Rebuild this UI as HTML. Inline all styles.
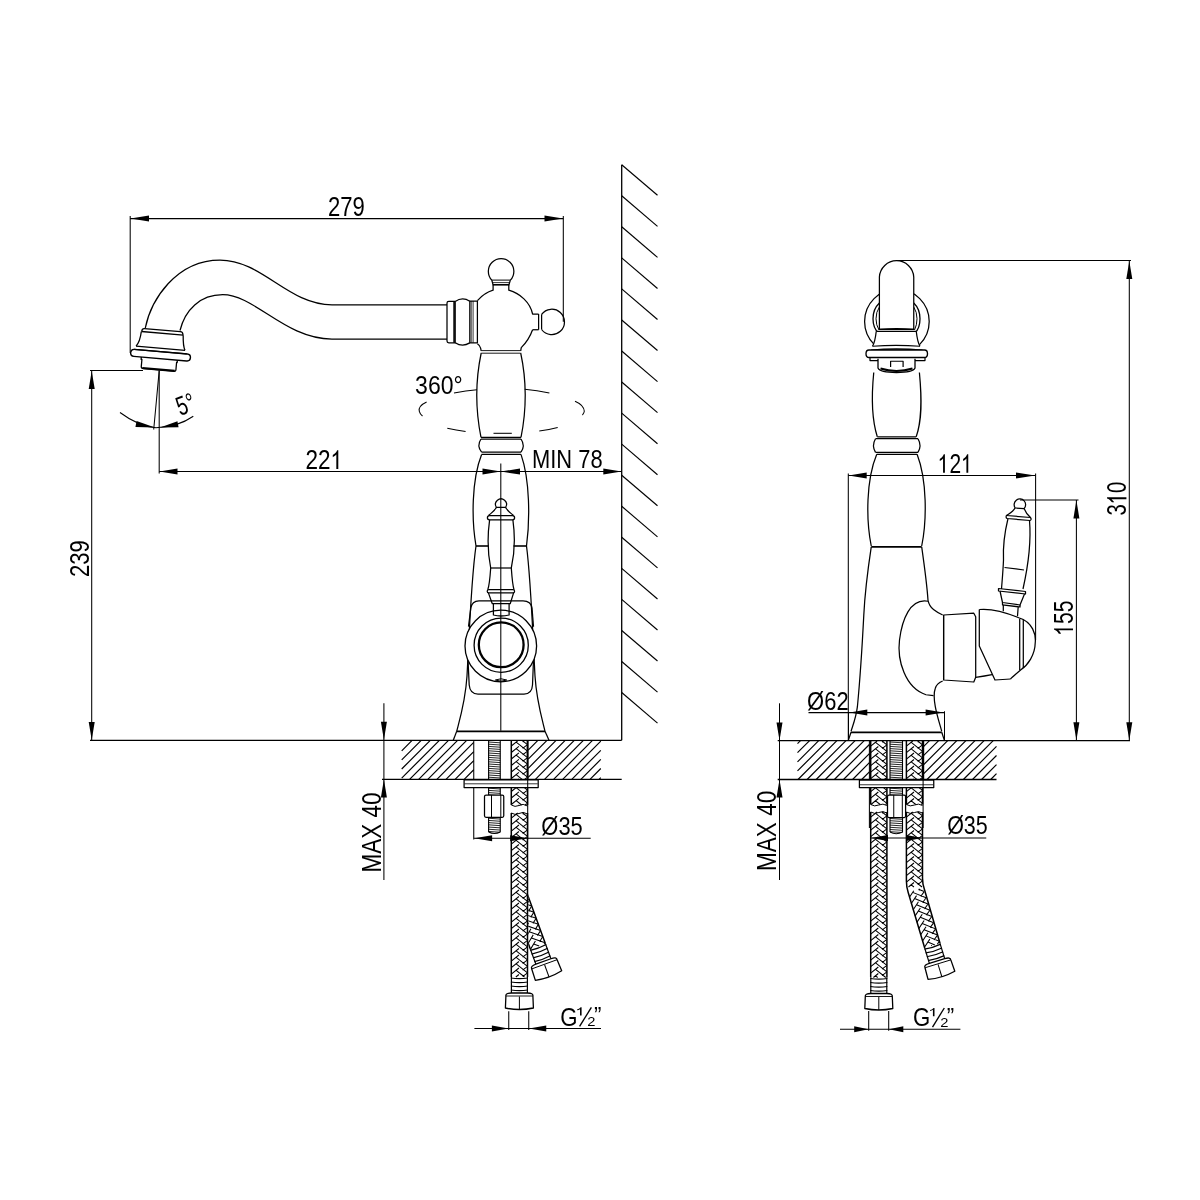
<!DOCTYPE html>
<html><head><meta charset="utf-8"><style>
html,body{margin:0;padding:0;background:#fff;}
svg{display:block;will-change:transform;}
text{font-family:"Liberation Sans",sans-serif;fill:#000;}
</style></head><body>
<svg width="1200" height="1200" viewBox="0 0 1200 1200" stroke-linecap="butt" stroke-linejoin="round">
<rect width="1200" height="1200" fill="#fff"/>
<line x1="130.2" y1="216" x2="130.2" y2="353" stroke="#000" stroke-width="1.05"/>
<line x1="563.3" y1="216" x2="563.3" y2="321.7" stroke="#000" stroke-width="1.05"/>
<line x1="130.2" y1="218.6" x2="563.3" y2="218.6" stroke="#000" stroke-width="1.05"/>
<path d="M130.5,218.6 L149,221.6 L149,215.6 Z" fill="#000" stroke="none"/>
<path d="M563,218.6 L544.5,215.6 L544.5,221.6 Z" fill="#000" stroke="none"/>
<g transform="matrix(0.22071,0,0,0.26761,327.9,215.73)"><text font-size="100"><tspan x="0">2</tspan><tspan x="55.61">7</tspan><tspan x="111.22">9</tspan></text></g>
<path d="M145.3,328 C151,300 176,260 220,260 C262,260 288,304.8 332,304.8 L447,304.8" fill="none" stroke="#000" stroke-width="1.25" />
<path d="M180,330.5 C185,310 200,294.7 222.7,294.7 C255,294.7 285,339 332,339 L447,339" fill="none" stroke="#000" stroke-width="1.25" />
<g transform="rotate(5 160 350)"><path d="M140.3,333.1 L140.3,332.3 Q140.3,330 142.6,330 L178.6,330 Q181.2,330 181.4,332.3 L181.6,333.3" fill="none" stroke="#000" stroke-width="1.3"/><line x1="140" y1="333.2" x2="181.8" y2="333.2" stroke="#000" stroke-width="1.3"/><path d="M139.8,333.2 C139.5,340 138,345.5 135.8,348.2" fill="none" stroke="#000" stroke-width="1.3"/><path d="M181.8,333.3 C182.3,340 183,345 184.9,348" fill="none" stroke="#000" stroke-width="1.3"/><line x1="135.8" y1="348.2" x2="185" y2="348.2" stroke="#000" stroke-width="1.3"/><line x1="134" y1="351.6" x2="187" y2="351.6" stroke="#000" stroke-width="1.3"/><path d="M134.5,351.6 L187.5,351.6 Q191,351.6 191,355.1 Q191,358.6 187.5,358.6 L134.5,358.6 Q131,358.6 131,355.1 Q131,351.6 134.5,351.6 Z" fill="none" stroke="#000" stroke-width="1.4"/><path d="M142,358.6 L142,361 L142.8,361 L142.8,368.6 Q142.8,370 144.8,370 L175.8,370 Q177.6,370 177.6,368.6 L177.6,361 L178.2,361 L178.2,358.6" fill="none" stroke="#000" stroke-width="1.3"/><line x1="144" y1="369.4" x2="176.5" y2="369.4" stroke="#000" stroke-width="2"/></g>
<line x1="90" y1="370.5" x2="143" y2="370.5" stroke="#000" stroke-width="1.05"/>
<line x1="91.7" y1="370.5" x2="91.7" y2="740.5" stroke="#000" stroke-width="1.05"/>
<path d="M91.7,371 L88.7,389 L94.7,389 Z" fill="#000" stroke="none"/>
<path d="M91.7,740 L94.7,722 L88.7,722 Z" fill="#000" stroke="none"/>
<g transform="matrix(0,-0.22071,0.27746,0,88.72,577.1)"><text font-size="100"><tspan x="0">2</tspan><tspan x="55.61">3</tspan><tspan x="111.22">9</tspan></text></g>
<line x1="159.2" y1="370.5" x2="159.2" y2="473.5" stroke="#000" stroke-width="1.05"/>
<line x1="159.2" y1="370.8" x2="153.7" y2="429.5" stroke="#000" stroke-width="1.05"/>
<path d="M120,412.5 Q138,426 156,427.8 Q178,427 193.3,416.3" fill="none" stroke="#000" stroke-width="1.05" />
<path d="M155,427.6 L136.56,421.05 L135.44,426.95 Z" fill="#000" stroke="none"/>
<path d="M160,427.6 L178.54,427.25 L177.46,421.35 Z" fill="#000" stroke="none"/>
<g transform="translate(185.2,404.2) rotate(-20)"><g transform="matrix(0.19274,0,0,0.26761,-9.02,9.23)"><text font-size="100"><tspan x="0">5</tspan><tspan x="55.61">°</tspan></text></g></g>
<line x1="159.2" y1="471.5" x2="621.7" y2="471.5" stroke="#000" stroke-width="1.05"/>
<path d="M159.5,471.5 L177.5,474.5 L177.5,468.5 Z" fill="#000" stroke="none"/>
<path d="M500.8,471.5 L482.5,468.5 L482.5,474.5 Z" fill="#000" stroke="none"/>
<path d="M500.8,471.5 L520,474.5 L520,468.5 Z" fill="#000" stroke="none"/>
<path d="M621.5,471.5 L603.3,468.5 L603.3,474.5 Z" fill="#000" stroke="none"/>
<g transform="matrix(0.22536,0,0,0.27143,305.57,469)"><text font-size="100"><tspan x="0">2</tspan><tspan x="55.61">2</tspan></text><path class="g1" transform="translate(111.22,0)" d="M25.25,0 L34,0 L34,-69 L28.8,-69 C26,-62 18,-55.5 9.5,-51.5 L9.5,-43.5 C15.5,-45.5 21.5,-49.5 25.25,-53 Z" fill="#000"/></g>
<g transform="matrix(0.21906,0,0,0.26408,532,468.49)"><text font-size="100"><tspan x="0">M</tspan><tspan x="83.3">I</tspan><tspan x="111.08">N</tspan><tspan x="211.08">7</tspan><tspan x="266.69">8</tspan></text></g>
<g transform="matrix(0.23015,0,0,0.26338,415.08,394.44)"><text font-size="100"><tspan x="0">3</tspan><tspan x="55.61">6</tspan><tspan x="111.22">0</tspan><tspan x="166.83">°</tspan></text></g>
<path d="M454,393 Q466,390.5 477,389.7" fill="none" stroke="#000" stroke-width="1.05" />
<path d="M524.7,389.3 Q537,390.5 549.4,393" fill="none" stroke="#000" stroke-width="1.05" />
<path d="M426.6,402 Q418,406 419.3,411.3 Q420,414 422.5,416" fill="none" stroke="#000" stroke-width="1.05" />
<path d="M575,401.2 Q584,405 584.3,411.3 Q584,413.5 582.4,415" fill="none" stroke="#000" stroke-width="1.05" />
<path d="M447.3,428.2 Q456,430 465.6,431.5" fill="none" stroke="#000" stroke-width="1.05" />
<path d="M539.3,431.1 Q548,430 557.7,427.5" fill="none" stroke="#000" stroke-width="1.05" />
<path d="M447,303 Q447,301.4 448.8,301.4 L455.2,301.4 L455.2,342.75 L448.8,342.75 Q447,342.75 447,341 Z" fill="none" stroke="#000" stroke-width="1.25" />
<line x1="454.1" y1="301.4" x2="454.1" y2="342.75" stroke="#000" stroke-width="1.6"/>
<path d="M455.2,301.4 Q462.5,296.5 469.8,301.2" fill="none" stroke="#000" stroke-width="1.25" />
<path d="M455.2,342.75 Q462.5,347.5 469.8,342.9" fill="none" stroke="#000" stroke-width="1.25" />
<path d="M469.8,301 L477.4,301 L477.4,342.75 L469.8,342.75 Z" fill="none" stroke="#000" stroke-width="1.25" />
<line x1="471.2" y1="301" x2="471.2" y2="342.75" stroke="#000" stroke-width="0.8"/>
<line x1="473.1" y1="301" x2="473.1" y2="342.75" stroke="#000" stroke-width="0.8"/>
<path d="M477.4,300.6 C482,295.5 487,292 493.1,290.2 L493.1,285" fill="none" stroke="#000" stroke-width="1.25" />
<path d="M508.8,285 L508.8,290.2 C520,293.5 530,302 532.6,314 L538.6,314" fill="none" stroke="#000" stroke-width="1.25" />
<path d="M532.6,329.75 L538.6,329.75" fill="none" stroke="#000" stroke-width="1.25" />
<path d="M532.6,329.75 C530,337 527,342 521.25,347.6 L520.7,350.9" fill="none" stroke="#000" stroke-width="1.25" />
<path d="M477.4,343.8 Q480,345.5 480.6,348.2 L481.2,350.9" fill="none" stroke="#000" stroke-width="1.25" />
<line x1="538.6" y1="314" x2="538.6" y2="329.75" stroke="#000" stroke-width="1.25"/>
<line x1="541.6" y1="314.3" x2="541.6" y2="329.5" stroke="#000" stroke-width="1.25"/>
<path d="M491.8,280.1 A12.75,12.75 0 1 1 510.4,280.1" fill="none" stroke="#000" stroke-width="1.25" />
<line x1="491.5" y1="280.1" x2="510.5" y2="280.1" stroke="#000" stroke-width="1.0"/>
<line x1="492" y1="282.6" x2="510" y2="282.6" stroke="#000" stroke-width="0.8"/>
<line x1="492.8" y1="284.8" x2="509.3" y2="284.8" stroke="#000" stroke-width="1.6"/>
<line x1="491.8" y1="280.1" x2="493.1" y2="285" stroke="#000" stroke-width="1.25"/>
<line x1="510.4" y1="280.1" x2="508.8" y2="285" stroke="#000" stroke-width="1.25"/>
<path d="M541.6,314.3 A12.7,12.7 0 1 1 541.6,329.5" fill="none" stroke="#000" stroke-width="1.25" />
<line x1="481.2" y1="350.6" x2="520.7" y2="350.6" stroke="#000" stroke-width="0.9"/>
<line x1="481.2" y1="353.2" x2="520.7" y2="353.2" stroke="#000" stroke-width="0.9"/>
<path d="M481.2,353 C475.5,380 475.5,410 481,437.4" fill="none" stroke="#000" stroke-width="1.25" />
<path d="M520.7,353 C526.5,380 526.5,410 521,437.4" fill="none" stroke="#000" stroke-width="1.25" />
<line x1="493.5" y1="433.3" x2="511.8" y2="433.3" stroke="#000" stroke-width="1.05"/>
<line x1="481" y1="437.4" x2="521" y2="437.4" stroke="#000" stroke-width="1.25"/>
<line x1="481" y1="439" x2="521" y2="439" stroke="#000" stroke-width="1.25"/>
<line x1="481.6" y1="452.2" x2="521" y2="452.2" stroke="#000" stroke-width="1.25"/>
<line x1="481.6" y1="454.4" x2="521" y2="454.4" stroke="#000" stroke-width="1.25"/>
<path d="M481,439 Q476.5,445.7 481.6,452.2" fill="none" stroke="#000" stroke-width="1.25" />
<path d="M521,439 Q525.5,445.7 521,452.2" fill="none" stroke="#000" stroke-width="1.25" />
<path d="M481.6,454.4 C471.5,480 471.5,520 476,546" fill="none" stroke="#000" stroke-width="1.25" />
<path d="M521,454.4 C530,480 530,520 526.5,546" fill="none" stroke="#000" stroke-width="1.25" />
<line x1="476" y1="546" x2="488.5" y2="546" stroke="#000" stroke-width="1.6"/>
<line x1="513.5" y1="546" x2="526.5" y2="546" stroke="#000" stroke-width="1.6"/>
<path d="M476,546 C471,580 469,640 467,676 C465.5,700 461,715 456.7,731.3" fill="none" stroke="#000" stroke-width="1.25" />
<path d="M526.5,546 C531,580 533,640 535,676 C536.5,700 541,715 545,731.3" fill="none" stroke="#000" stroke-width="1.25" />
<line x1="456.7" y1="731.3" x2="545" y2="731.3" stroke="#000" stroke-width="1.7"/>
<line x1="456.7" y1="731.3" x2="453.3" y2="740.3" stroke="#000" stroke-width="1.25"/>
<line x1="545" y1="731.3" x2="549" y2="740.3" stroke="#000" stroke-width="1.25"/>
<path d="M470.8,608 Q472,600.8 479,600.8 L523,600.8 Q531,600.8 532,608" fill="none" stroke="#000" stroke-width="1.25" />
<path d="M470.8,608 L468.5,626.7" fill="none" stroke="#000" stroke-width="1.25" />
<path d="M532,608 L533.5,626.7" fill="none" stroke="#000" stroke-width="1.25" />
<path d="M468,660 L469.2,685 Q470,694 478,694 L524,694 Q532,694 532.5,685 L533.5,660" fill="none" stroke="#000" stroke-width="1.25" />
<circle cx="500.8" cy="646" r="35.8" fill="#fff" stroke="#000" stroke-width="1.3"/>
<circle cx="501.2" cy="645.2" r="27.1" fill="none" stroke="#000" stroke-width="1.3"/>
<circle cx="501.2" cy="644.8" r="22.4" fill="none" stroke="#000" stroke-width="2.3"/>
<path d="M495.4,680 Q501,677.5 506.7,680 Q501,682.5 495.4,680 Z" fill="none" stroke="#000" stroke-width="1.0" />
<line x1="500.8" y1="463.6" x2="500.8" y2="730.8" stroke="#000" stroke-width="1.05"/>
<path d="M496.3,507.3 A5.5,5.5 0 1 1 505.7,507.3 Z" fill="none" stroke="#000" stroke-width="1.25" />
<path d="M496.2,507.4 C494.5,511.5 491,513 488.5,515.5 M505.8,507.4 C507.5,511.5 511,513 513.5,515.5" fill="none" stroke="#000" stroke-width="1.25" />
<path d="M489.5,515.5 L512.5,515.5 Q514.6,515.5 514.6,517.7 Q514.6,519.8 512.5,519.8 L489.5,519.8 Q487.4,519.8 487.4,517.7 Q487.4,515.5 489.5,515.5 Z" fill="none" stroke="#000" stroke-width="1.25" />
<path d="M489.6,519.8 C487.5,535 487.5,552 490.7,568 M512.9,519.8 C515,535 515,552 511.3,568" fill="none" stroke="#000" stroke-width="1.25" />
<line x1="490.7" y1="568" x2="511.3" y2="568" stroke="#000" stroke-width="1.25"/>
<path d="M490.7,568 C490,578 489.5,585 487.8,589.6 M511.3,568 C512,578 512.5,585 514,589.6" fill="none" stroke="#000" stroke-width="1.25" />
<path d="M488.8,589.6 L513,589.6 Q514.6,589.6 514.6,591.25 Q514.6,592.9 513,592.9 L488.8,592.9 Q487.2,592.9 487.2,591.25 Q487.2,589.6 488.8,589.6 Z" fill="none" stroke="#000" stroke-width="1.25" />
<path d="M488.4,592.9 L492.3,603.7 L510.2,603.7 L513.6,592.9" fill="none" stroke="#000" stroke-width="1.25" />
<path d="M493.4,603.7 L493.4,615 Q501,617 509.1,615 L509.1,603.7" fill="none" stroke="#000" stroke-width="1.25" />
<line x1="621.7" y1="164.7" x2="621.7" y2="740.3" stroke="#000" stroke-width="1.3"/>
<line x1="621.7" y1="164.7" x2="657.5" y2="195.3" stroke="#000" stroke-width="1.15"/>
<line x1="621.7" y1="195.75" x2="657.5" y2="226.35" stroke="#000" stroke-width="1.15"/>
<line x1="621.7" y1="226.8" x2="657.5" y2="257.4" stroke="#000" stroke-width="1.15"/>
<line x1="621.7" y1="257.85" x2="657.5" y2="288.45" stroke="#000" stroke-width="1.15"/>
<line x1="621.7" y1="288.9" x2="657.5" y2="319.5" stroke="#000" stroke-width="1.15"/>
<line x1="621.7" y1="319.95" x2="657.5" y2="350.55" stroke="#000" stroke-width="1.15"/>
<line x1="621.7" y1="351" x2="657.5" y2="381.6" stroke="#000" stroke-width="1.15"/>
<line x1="621.7" y1="382.05" x2="657.5" y2="412.65" stroke="#000" stroke-width="1.15"/>
<line x1="621.7" y1="413.1" x2="657.5" y2="443.7" stroke="#000" stroke-width="1.15"/>
<line x1="621.7" y1="444.15" x2="657.5" y2="474.75" stroke="#000" stroke-width="1.15"/>
<line x1="621.7" y1="475.2" x2="657.5" y2="505.8" stroke="#000" stroke-width="1.15"/>
<line x1="621.7" y1="506.25" x2="657.5" y2="536.85" stroke="#000" stroke-width="1.15"/>
<line x1="621.7" y1="537.3" x2="657.5" y2="567.9" stroke="#000" stroke-width="1.15"/>
<line x1="621.7" y1="568.35" x2="657.5" y2="598.95" stroke="#000" stroke-width="1.15"/>
<line x1="621.7" y1="599.4" x2="657.5" y2="630" stroke="#000" stroke-width="1.15"/>
<line x1="621.7" y1="630.45" x2="657.5" y2="661.05" stroke="#000" stroke-width="1.15"/>
<line x1="621.7" y1="661.5" x2="657.5" y2="692.1" stroke="#000" stroke-width="1.15"/>
<line x1="621.7" y1="692.55" x2="657.5" y2="723.15" stroke="#000" stroke-width="1.15"/>
<line x1="90" y1="740.4" x2="621.7" y2="740.4" stroke="#000" stroke-width="1.4"/>
<line x1="382" y1="779.3" x2="621.7" y2="779.3" stroke="#000" stroke-width="1.3"/>
<path d="M401.7,750.8 L412.1,740.4 M401.7,759.9 L421.2,740.4 M401.7,769 L430.3,740.4 M401.7,778.1 L439.4,740.4 M409.6,779.3 L448.5,740.4 M418.7,779.3 L457.6,740.4 M427.8,779.3 L466.7,740.4 M436.9,779.3 L473.75,742.45 M446,779.3 L473.75,751.55 M455.1,779.3 L473.75,760.65 M464.2,779.3 L473.75,769.75 M473.3,779.3 L473.75,778.85" fill="none" stroke="#000" stroke-width="1.2" />
<path d="M528.2,750.1 L537.9,740.4 M528.2,759.2 L547,740.4 M528.2,768.3 L556.1,740.4 M528.2,777.4 L565.2,740.4 M535.4,779.3 L574.3,740.4 M544.5,779.3 L583.4,740.4 M553.6,779.3 L592.5,740.4 M562.7,779.3 L600.8,741.2 M571.8,779.3 L600.8,750.3 M580.9,779.3 L600.8,759.4 M590,779.3 L600.8,768.5 M599.1,779.3 L600.8,777.6" fill="none" stroke="#000" stroke-width="1.2" />
<line x1="473.75" y1="740.4" x2="473.75" y2="839.5" stroke="#000" stroke-width="1.05"/>
<path d="M488.6,741 L488.6,795 M500.25,741 L500.25,795" fill="none" stroke="#000" stroke-width="1.1" />
<path d="M488.6,742 L500.25,742.8 M488.6,744.2 L500.25,745 M488.6,746.4 L500.25,747.2 M488.6,748.6 L500.25,749.4 M488.6,750.8 L500.25,751.6 M488.6,753 L500.25,753.8 M488.6,755.2 L500.25,756 M488.6,757.4 L500.25,758.2 M488.6,759.6 L500.25,760.4 M488.6,761.8 L500.25,762.6 M488.6,764 L500.25,764.8 M488.6,766.2 L500.25,767 M488.6,768.4 L500.25,769.2 M488.6,770.6 L500.25,771.4 M488.6,772.8 L500.25,773.6 M488.6,775 L500.25,775.8 M488.6,777.2 L500.25,778 M488.6,779.4 L500.25,780.2 M488.6,781.6 L500.25,782.4 M488.6,783.8 L500.25,784.6 M488.6,786 L500.25,786.8 M488.6,788.2 L500.25,789 M488.6,790.4 L500.25,791.2 M488.6,792.6 L500.25,793.4 M488.6,794.8 L500.25,795.6" fill="none" stroke="#000" stroke-width="0.85" />
<path d="M486,795 L502.25,795 Q503.75,795 503.75,796.5 L503.75,815.75 Q503.75,817.25 502.25,817.25 L486,817.25 Q484.5,817.25 484.5,815.75 L484.5,796.5 Q484.5,795 486,795 Z" fill="#fff" stroke="#000" stroke-width="1.25" />
<line x1="491.5" y1="795" x2="491.5" y2="817.25" stroke="#000" stroke-width="1.0"/>
<line x1="500.8" y1="795" x2="500.8" y2="817.25" stroke="#000" stroke-width="1.0"/>
<path d="M488.6,817.25 L488.6,832 M500.25,817.25 L500.25,832" fill="none" stroke="#000" stroke-width="1.1" />
<path d="M488.6,818.25 L500.25,819.05 M488.6,820.45 L500.25,821.25 M488.6,822.65 L500.25,823.45 M488.6,824.85 L500.25,825.65 M488.6,827.05 L500.25,827.85 M488.6,829.25 L500.25,830.05 M488.6,831.45 L500.25,832.25" fill="none" stroke="#000" stroke-width="0.85" />
<path d="M488.6,832 Q494.4,835 500.25,832" fill="none" stroke="#000" stroke-width="1.2" />
<path d="M511.3,740.8 L511.3,805 M527.5,740.8 L527.5,805" fill="none" stroke="#000" stroke-width="1.5" />
<path d="M522.64,740.8 L527.5,744.7 M524.08,740.8 L522.64,741.9 M517.69,740.8 L511.3,746 M516.16,742.1 L527.5,751.2 M527.5,744.7 L522.64,748.4 M518.91,746.3 L511.3,752.5 M516.16,748.6 L527.5,757.7 M527.5,751.2 L522.64,754.9 M518.91,752.8 L511.3,759 M516.16,755.1 L527.5,764.2 M527.5,757.7 L522.64,761.4 M518.91,759.3 L511.3,765.5 M516.16,761.6 L527.5,770.7 M527.5,764.2 L522.64,767.9 M518.91,765.8 L511.3,772 M516.16,768.1 L527.5,777.2 M527.5,770.7 L522.64,774.4 M518.91,772.3 L511.3,778.5 M516.16,774.6 L527.5,783.7 M527.5,777.2 L522.64,780.9 M518.91,778.8 L511.3,785 M516.16,781.1 L527.5,790.2 M527.5,783.7 L522.64,787.4 M518.91,785.3 L511.3,791.5 M516.16,787.6 L527.5,796.7 M527.5,790.2 L522.64,793.9 M518.91,791.8 L511.3,798 M516.16,794.1 L527.5,803.2 M527.5,796.7 L522.64,800.4 M518.91,798.3 L511.3,804.5 M516.16,800.6 L521.64,805 M527.5,803.2 L525.14,805 M518.91,804.8 L518.67,805" fill="none" stroke="#000" stroke-width="1.05" />
<path d="M511.3,813 L511.3,977 M527.5,813 L527.5,977" fill="none" stroke="#000" stroke-width="1.5" />
<path d="M522.64,813 L527.5,816.9 M524.08,813 L522.64,814.1 M517.69,813 L511.3,818.2 M516.16,814.3 L527.5,823.4 M527.5,816.9 L522.64,820.6 M518.91,818.5 L511.3,824.7 M516.16,820.8 L527.5,829.9 M527.5,823.4 L522.64,827.1 M518.91,825 L511.3,831.2 M516.16,827.3 L527.5,836.4 M527.5,829.9 L522.64,833.6 M518.91,831.5 L511.3,837.7 M516.16,833.8 L527.5,842.9 M527.5,836.4 L522.64,840.1 M518.91,838 L511.3,844.2 M516.16,840.3 L527.5,849.4 M527.5,842.9 L522.64,846.6 M518.91,844.5 L511.3,850.7 M516.16,846.8 L527.5,855.9 M527.5,849.4 L522.64,853.1 M518.91,851 L511.3,857.2 M516.16,853.3 L527.5,862.4 M527.5,855.9 L522.64,859.6 M518.91,857.5 L511.3,863.7 M516.16,859.8 L527.5,868.9 M527.5,862.4 L522.64,866.1 M518.91,864 L511.3,870.2 M516.16,866.3 L527.5,875.4 M527.5,868.9 L522.64,872.6 M518.91,870.5 L511.3,876.7 M516.16,872.8 L527.5,881.9 M527.5,875.4 L522.64,879.1 M518.91,877 L511.3,883.2 M516.16,879.3 L527.5,888.4 M527.5,881.9 L522.64,885.6 M518.91,883.5 L511.3,889.7 M516.16,885.8 L527.5,894.9 M527.5,888.4 L522.64,892.1 M518.91,890 L511.3,896.2 M516.16,892.3 L527.5,901.4 M527.5,894.9 L522.64,898.6 M518.91,896.5 L511.3,902.7 M516.16,898.8 L527.5,907.9 M527.5,901.4 L522.64,905.1 M518.91,903 L511.3,909.2 M516.16,905.3 L527.5,914.4 M527.5,907.9 L522.64,911.6 M518.91,909.5 L511.3,915.7 M516.16,911.8 L527.5,920.9 M527.5,914.4 L522.64,918.1 M518.91,916 L511.3,922.2 M516.16,918.3 L527.5,927.4 M527.5,920.9 L522.64,924.6 M518.91,922.5 L511.3,928.7 M516.16,924.8 L527.5,933.9 M527.5,927.4 L522.64,931.1 M518.91,929 L511.3,935.2 M516.16,931.3 L527.5,940.4 M527.5,933.9 L522.64,937.6 M518.91,935.5 L511.3,941.7 M516.16,937.8 L527.5,946.9 M527.5,940.4 L522.64,944.1 M518.91,942 L511.3,948.2 M516.16,944.3 L527.5,953.4 M527.5,946.9 L522.64,950.6 M518.91,948.5 L511.3,954.7 M516.16,950.8 L527.5,959.9 M527.5,953.4 L522.64,957.1 M518.91,955 L511.3,961.2 M516.16,957.3 L527.5,966.4 M527.5,959.9 L522.64,963.6 M518.91,961.5 L511.3,967.7 M516.16,963.8 L527.5,972.9 M527.5,966.4 L522.64,970.1 M518.91,968 L511.3,974.2 M516.16,970.3 L524.51,977 M527.5,972.9 L522.64,976.6 M518.91,974.5 L515.84,977 M516.16,976.8 L516.41,977" fill="none" stroke="#000" stroke-width="1.05" />
<path d="M511.3,805 Q515,807.5 519,805.5 Q523,803 527.5,806" fill="none" stroke="#000" stroke-width="1.0" />
<path d="M511.3,813 Q515,815.5 519,813.5 Q523,811 527.5,814" fill="none" stroke="#000" stroke-width="1.0" />
<clipPath id="cl1"><rect x="528.2" y="850" width="80" height="150"/></clipPath>
<g clip-path="url(#cl1)"><g transform="translate(530.4,949.2) rotate(-20)">
<path d="M0,-70 L0,0 M16,-70 L16,0" fill="none" stroke="#000" stroke-width="1.5" />
<path d="M11.2,-70 L16,-66.1 M12.63,-70 L11.2,-68.9 M6.31,-70 L0,-64.8 M4.8,-68.7 L16,-59.6 M16,-66.1 L11.2,-62.4 M7.52,-64.5 L0,-58.3 M4.8,-62.2 L16,-53.1 M16,-59.6 L11.2,-55.9 M7.52,-58 L0,-51.8 M4.8,-55.7 L16,-46.6 M16,-53.1 L11.2,-49.4 M7.52,-51.5 L0,-45.3 M4.8,-49.2 L16,-40.1 M16,-46.6 L11.2,-42.9 M7.52,-45 L0,-38.8 M4.8,-42.7 L16,-33.6 M16,-40.1 L11.2,-36.4 M7.52,-38.5 L0,-32.3 M4.8,-36.2 L16,-27.1 M16,-33.6 L11.2,-29.9 M7.52,-32 L0,-25.8 M4.8,-29.7 L16,-20.6 M16,-27.1 L11.2,-23.4 M7.52,-25.5 L0,-19.3 M4.8,-23.2 L16,-14.1 M16,-20.6 L11.2,-16.9 M7.52,-19 L0,-12.8 M4.8,-16.7 L16,-7.6 M16,-14.1 L11.2,-10.4 M7.52,-12.5 L0,-6.3 M4.8,-10.2 L16,-1.1 M16,-7.6 L11.2,-3.9 M7.52,-6 L0.24,0 M4.8,-3.7 L9.35,0 M16,-1.1 L14.57,0" fill="none" stroke="#000" stroke-width="1.05" />
</g></g>
<path d="M464.1,779.9 L538.2,779.9 L538.2,787.5 L464.1,787.5 Z" fill="#fff" stroke="#000" stroke-width="1.25" />
<line x1="464.6" y1="783.8" x2="537.7" y2="783.8" stroke="#000" stroke-width="0.8"/>
<line x1="527.7" y1="740.4" x2="527.7" y2="839.5" stroke="#000" stroke-width="1.05"/>
<line x1="527.6" y1="740.4" x2="527.6" y2="779.3" stroke="#000" stroke-width="1.6"/>
<line x1="474" y1="838.3" x2="590.7" y2="838.3" stroke="#000" stroke-width="1.05"/>
<path d="M474.3,838.3 L492.1,841.3 L492.1,835.3 Z" fill="#000" stroke="none"/>
<path d="M527.5,838.3 L510.2,835.3 L510.2,841.3 Z" fill="#000" stroke="none"/>
<g transform="matrix(0.21919,0,0,0.25772,541.37,834.66)"><text font-size="100"><tspan x="0">Ø</tspan><tspan x="77.78">3</tspan><tspan x="133.39">5</tspan></text></g>
<line x1="383.9" y1="703.3" x2="383.9" y2="880" stroke="#000" stroke-width="1.05"/>
<path d="M383.9,740 L386.9,721.7 L380.9,721.7 Z" fill="#000" stroke="none"/>
<path d="M383.9,779.3 L380.9,797.5 L386.9,797.5 Z" fill="#000" stroke="none"/>
<g transform="matrix(0,-0.22556,0.26901,0,380.53,872.6)"><text font-size="100"><tspan x="0">M</tspan><tspan x="83.3">A</tspan><tspan x="150">X</tspan><tspan x="244.48">4</tspan><tspan x="300.09">0</tspan></text></g>
<path d="M511.4,977 L511.4,993 M527.4,977 L527.4,993" fill="#fff" stroke="#000" stroke-width="1.2" />
<path d="M510.9,978 Q519.4,979.3 527.9,978" fill="none" stroke="#000" stroke-width="1.2" />
<path d="M510.9,982 Q519.4,983.3 527.9,982" fill="none" stroke="#000" stroke-width="1.2" />
<path d="M510.9,986 Q519.4,987.3 527.9,986" fill="none" stroke="#000" stroke-width="1.2" />
<path d="M510.9,990 Q519.4,991.3 527.9,990" fill="none" stroke="#000" stroke-width="1.2" />
<path d="M505.9,996 Q505.4,993 511.4,993 L527.4,993 Q533.4,993 532.9,996 L533.4,1008 Q519.4,1011 505.4,1008 Z" fill="#fff" stroke="#000" stroke-width="1.3" />
<line x1="505.9" y1="996" x2="532.9" y2="996" stroke="#000" stroke-width="0.9"/>
<line x1="519.4" y1="996.5" x2="519.4" y2="1009.5" stroke="#000" stroke-width="1.0"/>
<g transform="translate(530.4,949.2) rotate(-20)">
<path d="M0,0 L0,16 M16,0 L16,16" fill="#fff" stroke="#000" stroke-width="1.2" />
<path d="M-0.5,1 Q8,2.3 16.5,1" fill="none" stroke="#000" stroke-width="1.2" />
<path d="M-0.5,5 Q8,6.3 16.5,5" fill="none" stroke="#000" stroke-width="1.2" />
<path d="M-0.5,9 Q8,10.3 16.5,9" fill="none" stroke="#000" stroke-width="1.2" />
<path d="M-0.5,13 Q8,14.3 16.5,13" fill="none" stroke="#000" stroke-width="1.2" />
<path d="M-5.5,19 Q-6,16 0,16 L16,16 Q22,16 21.5,19 L22,31 Q8,34 -6,31 Z" fill="#fff" stroke="#000" stroke-width="1.3" />
<line x1="-5.5" y1="19" x2="21.5" y2="19" stroke="#000" stroke-width="0.9"/>
<line x1="8" y1="19.5" x2="8" y2="32.5" stroke="#000" stroke-width="1.0"/>
</g>
<line x1="508.75" y1="1011.25" x2="508.75" y2="1030" stroke="#000" stroke-width="1.05"/>
<line x1="528.75" y1="1011.25" x2="528.75" y2="1030" stroke="#000" stroke-width="1.05"/>
<line x1="474.4" y1="1028.5" x2="601" y2="1028.5" stroke="#000" stroke-width="1.05"/>
<path d="M508.5,1028.5 L491.9,1025.5 L491.9,1031.5 Z" fill="#000" stroke="none"/>
<path d="M529,1028.5 L546.25,1031.5 L546.25,1025.5 Z" fill="#000" stroke="none"/>
<g transform="matrix(0.22198,0,0,0.26451,560.15,1025.59)"><text font-size="100"><tspan x="0">G</tspan></text></g>
<g transform="matrix(0.17959,0,0,0.11942,575.49,1015.5)"><path class="g1" transform="translate(0,0)" d="M25.25,0 L34,0 L34,-69 L28.8,-69 C26,-62 18,-55.5 9.5,-51.5 L9.5,-43.5 C15.5,-45.5 21.5,-49.5 25.25,-53 Z" fill="#000"/></g>
<line x1="579.6" y1="1026.4" x2="591.4" y2="1007.3" stroke="#000" stroke-width="1.35"/>
<g transform="matrix(0.14725,0,0,0.12071,587.36,1025.85)"><text font-size="100"><tspan x="0">2</tspan></text></g>
<g transform="matrix(0.22353,0,0,0.24622,593.91,1024.25)"><text font-size="100"><tspan x="0">”</tspan></text></g>
<line x1="896" y1="260.5" x2="1131" y2="260.5" stroke="#000" stroke-width="1.05"/>
<line x1="1129.3" y1="260" x2="1129.3" y2="740.5" stroke="#000" stroke-width="1.05"/>
<path d="M1129.3,261 L1126.3,279 L1132.3,279 Z" fill="#000" stroke="none"/>
<path d="M1129.3,740.3 L1132.3,722.3 L1126.3,722.3 Z" fill="#000" stroke="none"/>
<g transform="matrix(0,-0.20319,0.28099,0,1126.42,515.56)"><text font-size="100"><tspan x="0">3</tspan><tspan x="111.22">0</tspan></text><path class="g1" transform="translate(55.61,0)" d="M25.25,0 L34,0 L34,-69 L28.8,-69 C26,-62 18,-55.5 9.5,-51.5 L9.5,-43.5 C15.5,-45.5 21.5,-49.5 25.25,-53 Z" fill="#000"/></g>
<line x1="1020" y1="500" x2="1078.5" y2="500" stroke="#000" stroke-width="1.05"/>
<line x1="1076.4" y1="500" x2="1076.4" y2="740.5" stroke="#000" stroke-width="1.05"/>
<path d="M1076.4,500.3 L1073.4,518.5 L1079.4,518.5 Z" fill="#000" stroke="none"/>
<path d="M1076.4,740.3 L1079.4,722.3 L1073.4,722.3 Z" fill="#000" stroke="none"/>
<g transform="matrix(0,-0.21146,0.27571,0,1073.02,635.71)"><text font-size="100"><tspan x="55.61">5</tspan><tspan x="111.22">5</tspan></text><path class="g1" transform="translate(0,0)" d="M25.25,0 L34,0 L34,-69 L28.8,-69 C26,-62 18,-55.5 9.5,-51.5 L9.5,-43.5 C15.5,-45.5 21.5,-49.5 25.25,-53 Z" fill="#000"/></g>
<line x1="848.3" y1="473.5" x2="848.3" y2="740.6" stroke="#000" stroke-width="1.05"/>
<line x1="1035.6" y1="473.5" x2="1035.6" y2="640" stroke="#000" stroke-width="1.05"/>
<line x1="848.3" y1="475.4" x2="1035.4" y2="475.4" stroke="#000" stroke-width="1.05"/>
<path d="M848.6,475.4 L866.7,478.4 L866.7,472.4 Z" fill="#000" stroke="none"/>
<path d="M1035.1,475.4 L1016,472.4 L1016,478.4 Z" fill="#000" stroke="none"/>
<g transform="matrix(0.20999,0,0,0.26786,937.76,472.75)"><text font-size="100"><tspan x="55.61">2</tspan></text><path class="g1" transform="translate(0,0)" d="M25.25,0 L34,0 L34,-69 L28.8,-69 C26,-62 18,-55.5 9.5,-51.5 L9.5,-43.5 C15.5,-45.5 21.5,-49.5 25.25,-53 Z" fill="#000"/><path class="g1" transform="translate(111.22,0)" d="M25.25,0 L34,0 L34,-69 L28.8,-69 C26,-62 18,-55.5 9.5,-51.5 L9.5,-43.5 C15.5,-45.5 21.5,-49.5 25.25,-53 Z" fill="#000"/></g>
<circle cx="896.9" cy="321.5" r="32.3" fill="none" stroke="#000" stroke-width="1.25"/>
<path d="M879.4,303 Q873,309 873,318.75 Q873,328 878.5,333" fill="none" stroke="#000" stroke-width="1.3" />
<path d="M879.4,307 Q876,312 876,318.75 Q876,325 879,330" fill="none" stroke="#000" stroke-width="1.0" />
<path d="M913.75,303 Q920,309 920,318.75 Q920,328 915,333" fill="none" stroke="#000" stroke-width="1.3" />
<path d="M913.75,307 Q917,312 917,318.75 Q917,325 914.5,330" fill="none" stroke="#000" stroke-width="1.0" />
<path d="M879.4,329.4 L879.4,277 A17.2,17.2 0 0 1 913.75,277 L913.75,329.4 Z" fill="#fff" stroke="#000" stroke-width="1.25" />
<path d="M879.4,329.4 Q896.5,327.8 913.75,329.4" fill="none" stroke="#000" stroke-width="1.25" />
<path d="M876.25,331.25 C875.5,338 874.5,343 872.5,346.25 L871,350 L922.5,350 L920,346.25 C918,343 917,338 916.25,331.25 Z" fill="#fff" stroke="none" stroke-width="0" />
<line x1="876.25" y1="331.25" x2="916.25" y2="331.25" stroke="#000" stroke-width="1.25"/>
<path d="M876.25,331.25 C875.5,338 874.5,343 872.5,346.25" fill="none" stroke="#000" stroke-width="1.25" />
<path d="M916.25,331.25 C917,338 918,343 920,346.25" fill="none" stroke="#000" stroke-width="1.25" />
<path d="M872.5,346.25 Q896,344.5 920,346.25" fill="none" stroke="#000" stroke-width="1.25" />
<path d="M871,350 Q896,348 922.5,350" fill="none" stroke="#000" stroke-width="1.25" />
<path d="M869,350 L924.5,350 Q927.5,350 927.5,353.7 Q927.5,357.5 924.5,357.5 L869,357.5 Q866,357.5 866,353.7 Q866,350 869,350 Z" fill="#fff" stroke="#000" stroke-width="1.35" />
<path d="M870,357.5 L870,360.6 L878,360.6 M925,357.5 L925,360.6 L915,360.6" fill="none" stroke="#000" stroke-width="1.2" />
<path d="M878,358.75 L878,368 Q880,372.5 896.5,372.5 Q913,372.5 915,368 L915,358.75" fill="none" stroke="#000" stroke-width="1.3" />
<path d="M880.5,368.5 Q896.5,373.5 912.5,368.5" fill="none" stroke="#000" stroke-width="2.2" />
<path d="M890.6,367 L890.6,361.25 L903.1,361.25 L903.1,367" fill="none" stroke="#000" stroke-width="1.2" />
<path d="M873.75,372.5 C871,400 872,420 877.3,436.8" fill="none" stroke="#000" stroke-width="1.25" />
<path d="M919.4,372.5 C922,400 922,420 916.2,436.8" fill="none" stroke="#000" stroke-width="1.25" />
<line x1="877.3" y1="436.8" x2="916.2" y2="436.8" stroke="#000" stroke-width="1.25"/>
<line x1="875.5" y1="438.7" x2="918" y2="438.7" stroke="#000" stroke-width="1.25"/>
<line x1="875.5" y1="452.4" x2="918" y2="452.4" stroke="#000" stroke-width="1.25"/>
<line x1="876.75" y1="454.25" x2="917.1" y2="454.25" stroke="#000" stroke-width="1.25"/>
<path d="M875.5,438.7 Q871.5,445.5 875.5,452.4" fill="none" stroke="#000" stroke-width="1.25" />
<path d="M918,438.7 Q922,445.5 918,452.4" fill="none" stroke="#000" stroke-width="1.25" />
<path d="M876.75,454.25 C866,480 866,520 871.25,546" fill="none" stroke="#000" stroke-width="1.25" />
<path d="M917.1,454.25 C927,480 927,520 921.7,546" fill="none" stroke="#000" stroke-width="1.25" />
<line x1="871.25" y1="546.8" x2="921.7" y2="546.8" stroke="#000" stroke-width="1.8"/>
<path d="M871.25,546.8 C867,575 865,590 863.8,615 C862,650 859,690 857.4,706.7 C856,718 853,725 851,731.4" fill="none" stroke="#000" stroke-width="1.25" />
<path d="M921.7,546.8 C925,570 927,585 928,600.3 C929,605 931,607.5 933.5,609.5 Q938,613 942.7,615" fill="none" stroke="#000" stroke-width="1.25" />
<path d="M942.7,681 Q937,683 935.3,688.3 C934,692 933.5,697 935.3,706.7 C937,716 939.5,723 941.75,731.4" fill="none" stroke="#000" stroke-width="1.25" />
<line x1="851" y1="732.3" x2="941.75" y2="732.3" stroke="#000" stroke-width="1.7"/>
<line x1="851" y1="732.3" x2="848.25" y2="740.6" stroke="#000" stroke-width="1.25"/>
<line x1="941.75" y1="732.3" x2="944.5" y2="740.6" stroke="#000" stroke-width="1.25"/>
<path d="M928,601.25 C910,598 902,620 899.5,640 C897,660 905,688 926,694.75 L933.5,695.7" fill="none" stroke="#000" stroke-width="1.25" />
<path d="M943.6,615 L973.8,613.2 L975.7,616.8 L975.7,677.3 L973.8,682 L943.6,680 Z" fill="none" stroke="#000" stroke-width="1.25" />
<line x1="943.6" y1="615" x2="943.6" y2="680" stroke="#000" stroke-width="1.25"/>
<path d="M979.3,609.5 L979.3,646 L995,680 L1010.5,679" fill="none" stroke="#000" stroke-width="1.25" />
<path d="M979.3,609.5 C990,608.5 1005,612 1018.75,617.75 C1033,622 1036,635 1035.25,642.5 C1035,655 1028,665 1020.6,670 C1016,674 1012,677 1010.5,679" fill="none" stroke="#000" stroke-width="1.25" />
<line x1="1019.7" y1="618.7" x2="1019.7" y2="670" stroke="#000" stroke-width="1.25"/>
<line x1="1023.3" y1="619.5" x2="1023.3" y2="668" stroke="#000" stroke-width="1.25"/>
<path d="M975.7,677.3 Q985,676 992,674.6" fill="none" stroke="#000" stroke-width="1.25" />
<path d="M1015.2,508 A5.75,5.75 0 1 1 1024,508.7 Z" fill="none" stroke="#000" stroke-width="1.25" />
<path d="M1015,508 C1013.5,511.5 1009.5,513.5 1006.5,515.5 L1030.5,517.5 C1027.5,515 1025.5,512 1024.2,508.7" fill="none" stroke="#000" stroke-width="1.25" />
<path d="M1006.5,515.5 Q1005.5,517.5 1007,518.5 L1030,520.5 Q1032,519.5 1030.5,517.5" fill="none" stroke="#000" stroke-width="1.25" />
<path d="M1008,518.5 C1004,535 1003,550 1003.5,560 C1003,572 1002,582 1001.5,589" fill="none" stroke="#000" stroke-width="1.25" />
<path d="M1029.5,520.5 C1031,538 1029,562 1023,589" fill="none" stroke="#000" stroke-width="1.25" />
<line x1="1004.5" y1="567.5" x2="1024" y2="570" stroke="#000" stroke-width="1.25"/>
<path d="M998.5,588.5 L1025.5,591.5 L1025.5,594 L998.5,591 Z" fill="none" stroke="#000" stroke-width="1.25" />
<path d="M1000,591 L1002.5,602.5 L1020,605 L1024.5,594" fill="none" stroke="#000" stroke-width="1.25" />
<path d="M1002.5,602.5 L1002.5,604.8 L1020,607 L1020,605" fill="none" stroke="#000" stroke-width="1.25" />
<path d="M1003.3,604.8 L1003.3,611.2 M1018.2,606.8 L1017.5,616" fill="none" stroke="#000" stroke-width="1.25" />
<line x1="848.5" y1="712.6" x2="848.5" y2="740.6" stroke="#000" stroke-width="1.05"/>
<line x1="944.5" y1="711.25" x2="944.5" y2="740.6" stroke="#000" stroke-width="1.05"/>
<line x1="808.5" y1="712.6" x2="944.5" y2="712.6" stroke="#000" stroke-width="1.05"/>
<path d="M849.6,712.6 L867.3,715.6 L867.3,709.6 Z" fill="#000" stroke="none"/>
<path d="M943.3,712.6 L925.6,709.6 L925.6,715.6 Z" fill="#000" stroke="none"/>
<g transform="matrix(0.21958,0,0,0.25839,807.12,709.6)"><text font-size="100"><tspan x="0">Ø</tspan><tspan x="77.78">6</tspan><tspan x="133.39">2</tspan></text></g>
<line x1="777.7" y1="740.6" x2="1130" y2="740.6" stroke="#000" stroke-width="1.4"/>
<line x1="777.7" y1="779.5" x2="996.5" y2="779.5" stroke="#000" stroke-width="1.3"/>
<path d="M797.5,743.6 L800.5,740.6 M797.5,752.7 L809.6,740.6 M797.5,761.8 L818.7,740.6 M797.5,770.9 L827.8,740.6 M798,779.5 L836.9,740.6 M807.1,779.5 L846,740.6 M816.2,779.5 L855.1,740.6 M825.3,779.5 L864.2,740.6 M834.4,779.5 L869.4,744.5 M843.5,779.5 L869.4,753.6 M852.6,779.5 L869.4,762.7 M861.7,779.5 L869.4,771.8" fill="none" stroke="#000" stroke-width="1.2" />
<path d="M923.5,746.6 L929.5,740.6 M923.5,755.7 L938.6,740.6 M923.5,764.8 L947.7,740.6 M923.5,773.9 L956.8,740.6 M927,779.5 L965.9,740.6 M936.1,779.5 L975,740.6 M945.2,779.5 L984.1,740.6 M954.3,779.5 L993.2,740.6 M963.4,779.5 L996.5,746.4 M972.5,779.5 L996.5,755.5 M981.6,779.5 L996.5,764.6 M990.7,779.5 L996.5,773.7" fill="none" stroke="#000" stroke-width="1.2" />
<line x1="869.4" y1="740.6" x2="869.4" y2="828" stroke="#000" stroke-width="1.05"/>
<path d="M890,741 L890,795 M902.5,741 L902.5,795" fill="none" stroke="#000" stroke-width="1.1" />
<path d="M890,742 L902.5,742.8 M890,744.2 L902.5,745 M890,746.4 L902.5,747.2 M890,748.6 L902.5,749.4 M890,750.8 L902.5,751.6 M890,753 L902.5,753.8 M890,755.2 L902.5,756 M890,757.4 L902.5,758.2 M890,759.6 L902.5,760.4 M890,761.8 L902.5,762.6 M890,764 L902.5,764.8 M890,766.2 L902.5,767 M890,768.4 L902.5,769.2 M890,770.6 L902.5,771.4 M890,772.8 L902.5,773.6 M890,775 L902.5,775.8 M890,777.2 L902.5,778 M890,779.4 L902.5,780.2 M890,781.6 L902.5,782.4 M890,783.8 L902.5,784.6 M890,786 L902.5,786.8 M890,788.2 L902.5,789 M890,790.4 L902.5,791.2 M890,792.6 L902.5,793.4 M890,794.8 L902.5,795.6" fill="none" stroke="#000" stroke-width="0.85" />
<path d="M889,795 L904.1,795 Q905.6,795 905.6,796.5 L905.6,816 Q905.6,817.5 904.1,817.5 L889,817.5 Q887.5,817.5 887.5,816 L887.5,796.5 Q887.5,795 889,795 Z" fill="#fff" stroke="#000" stroke-width="1.25" />
<line x1="893.75" y1="795" x2="893.75" y2="817.5" stroke="#000" stroke-width="1.0"/>
<line x1="902.3" y1="795" x2="902.3" y2="817.5" stroke="#000" stroke-width="1.0"/>
<path d="M890,817.5 L890,832 M902.5,817.5 L902.5,832" fill="none" stroke="#000" stroke-width="1.1" />
<path d="M890,818.5 L902.5,819.3 M890,820.7 L902.5,821.5 M890,822.9 L902.5,823.7 M890,825.1 L902.5,825.9 M890,827.3 L902.5,828.1 M890,829.5 L902.5,830.3 M890,831.7 L902.5,832.5" fill="none" stroke="#000" stroke-width="0.85" />
<path d="M890,832 Q896.25,835.5 902.5,832" fill="none" stroke="#000" stroke-width="1.2" />
<path d="M870.7,741 L870.7,804.5 M886.9,741 L886.9,804.5" fill="none" stroke="#000" stroke-width="1.5" />
<path d="M882.04,741 L886.9,744.9 M883.48,741 L882.04,742.1 M877.09,741 L870.7,746.2 M875.56,742.3 L886.9,751.4 M886.9,744.9 L882.04,748.6 M878.31,746.5 L870.7,752.7 M875.56,748.8 L886.9,757.9 M886.9,751.4 L882.04,755.1 M878.31,753 L870.7,759.2 M875.56,755.3 L886.9,764.4 M886.9,757.9 L882.04,761.6 M878.31,759.5 L870.7,765.7 M875.56,761.8 L886.9,770.9 M886.9,764.4 L882.04,768.1 M878.31,766 L870.7,772.2 M875.56,768.3 L886.9,777.4 M886.9,770.9 L882.04,774.6 M878.31,772.5 L870.7,778.7 M875.56,774.8 L886.9,783.9 M886.9,777.4 L882.04,781.1 M878.31,779 L870.7,785.2 M875.56,781.3 L886.9,790.4 M886.9,783.9 L882.04,787.6 M878.31,785.5 L870.7,791.7 M875.56,787.8 L886.9,796.9 M886.9,790.4 L882.04,794.1 M878.31,792 L870.7,798.2 M875.56,794.3 L886.9,803.4 M886.9,796.9 L882.04,800.6 M878.31,798.5 L870.95,804.5 M875.56,800.8 L880.17,804.5 M886.9,803.4 L885.46,804.5" fill="none" stroke="#000" stroke-width="1.05" />
<path d="M870.7,812 L870.7,977.5 M886.9,812 L886.9,977.5" fill="none" stroke="#000" stroke-width="1.5" />
<path d="M882.04,812 L886.9,815.9 M883.48,812 L882.04,813.1 M877.09,812 L870.7,817.2 M875.56,813.3 L886.9,822.4 M886.9,815.9 L882.04,819.6 M878.31,817.5 L870.7,823.7 M875.56,819.8 L886.9,828.9 M886.9,822.4 L882.04,826.1 M878.31,824 L870.7,830.2 M875.56,826.3 L886.9,835.4 M886.9,828.9 L882.04,832.6 M878.31,830.5 L870.7,836.7 M875.56,832.8 L886.9,841.9 M886.9,835.4 L882.04,839.1 M878.31,837 L870.7,843.2 M875.56,839.3 L886.9,848.4 M886.9,841.9 L882.04,845.6 M878.31,843.5 L870.7,849.7 M875.56,845.8 L886.9,854.9 M886.9,848.4 L882.04,852.1 M878.31,850 L870.7,856.2 M875.56,852.3 L886.9,861.4 M886.9,854.9 L882.04,858.6 M878.31,856.5 L870.7,862.7 M875.56,858.8 L886.9,867.9 M886.9,861.4 L882.04,865.1 M878.31,863 L870.7,869.2 M875.56,865.3 L886.9,874.4 M886.9,867.9 L882.04,871.6 M878.31,869.5 L870.7,875.7 M875.56,871.8 L886.9,880.9 M886.9,874.4 L882.04,878.1 M878.31,876 L870.7,882.2 M875.56,878.3 L886.9,887.4 M886.9,880.9 L882.04,884.6 M878.31,882.5 L870.7,888.7 M875.56,884.8 L886.9,893.9 M886.9,887.4 L882.04,891.1 M878.31,889 L870.7,895.2 M875.56,891.3 L886.9,900.4 M886.9,893.9 L882.04,897.6 M878.31,895.5 L870.7,901.7 M875.56,897.8 L886.9,906.9 M886.9,900.4 L882.04,904.1 M878.31,902 L870.7,908.2 M875.56,904.3 L886.9,913.4 M886.9,906.9 L882.04,910.6 M878.31,908.5 L870.7,914.7 M875.56,910.8 L886.9,919.9 M886.9,913.4 L882.04,917.1 M878.31,915 L870.7,921.2 M875.56,917.3 L886.9,926.4 M886.9,919.9 L882.04,923.6 M878.31,921.5 L870.7,927.7 M875.56,923.8 L886.9,932.9 M886.9,926.4 L882.04,930.1 M878.31,928 L870.7,934.2 M875.56,930.3 L886.9,939.4 M886.9,932.9 L882.04,936.6 M878.31,934.5 L870.7,940.7 M875.56,936.8 L886.9,945.9 M886.9,939.4 L882.04,943.1 M878.31,941 L870.7,947.2 M875.56,943.3 L886.9,952.4 M886.9,945.9 L882.04,949.6 M878.31,947.5 L870.7,953.7 M875.56,949.8 L886.9,958.9 M886.9,952.4 L882.04,956.1 M878.31,954 L870.7,960.2 M875.56,956.3 L886.9,965.4 M886.9,958.9 L882.04,962.6 M878.31,960.5 L870.7,966.7 M875.56,962.8 L886.9,971.9 M886.9,965.4 L882.04,969.1 M878.31,967 L870.7,973.2 M875.56,969.3 L885.78,977.5 M886.9,971.9 L882.04,975.6 M878.31,973.5 L873.4,977.5 M875.56,975.8 L877.68,977.5" fill="none" stroke="#000" stroke-width="1.05" />
<path d="M870.7,804.5 Q874.5,807 878.8,805 Q883,803 886.9,805.5" fill="none" stroke="#000" stroke-width="1.0" />
<path d="M870.7,812 Q874.5,814.5 878.8,812.5 Q883,810.5 886.9,813" fill="none" stroke="#000" stroke-width="1.0" />
<path d="M906.4,741 L906.4,804.5 M922.5,741 L922.5,804.5" fill="none" stroke="#000" stroke-width="1.5" />
<path d="M917.67,741 L922.5,744.9 M919.11,741 L917.67,742.1 M912.75,741 L906.4,746.2 M911.23,742.3 L922.5,751.4 M922.5,744.9 L917.67,748.6 M913.97,746.5 L906.4,752.7 M911.23,748.8 L922.5,757.9 M922.5,751.4 L917.67,755.1 M913.97,753 L906.4,759.2 M911.23,755.3 L922.5,764.4 M922.5,757.9 L917.67,761.6 M913.97,759.5 L906.4,765.7 M911.23,761.8 L922.5,770.9 M922.5,764.4 L917.67,768.1 M913.97,766 L906.4,772.2 M911.23,768.3 L922.5,777.4 M922.5,770.9 L917.67,774.6 M913.97,772.5 L906.4,778.7 M911.23,774.8 L922.5,783.9 M922.5,777.4 L917.67,781.1 M913.97,779 L906.4,785.2 M911.23,781.3 L922.5,790.4 M922.5,783.9 L917.67,787.6 M913.97,785.5 L906.4,791.7 M911.23,787.8 L922.5,796.9 M922.5,790.4 L917.67,794.1 M913.97,792 L906.4,798.2 M911.23,794.3 L922.5,803.4 M922.5,796.9 L917.67,800.6 M913.97,798.5 L906.64,804.5 M911.23,800.8 L915.81,804.5 M922.5,803.4 L921.06,804.5" fill="none" stroke="#000" stroke-width="1.05" />
<path d="M917.67,812 L922.5,815.9 M919.11,812 L917.67,813.1 M912.75,812 L906.4,817.2 M911.23,813.3 L922.5,822.4 M922.5,815.9 L917.67,819.6 M913.97,817.5 L906.4,823.7 M911.23,819.8 L922.5,828.9 M922.5,822.4 L917.67,826.1 M913.97,824 L906.4,830.2 M911.23,826.3 L922.5,835.4 M922.5,828.9 L917.67,832.6 M913.97,830.5 L906.4,836.7 M911.23,832.8 L922.5,841.9 M922.5,835.4 L917.67,839.1 M913.97,837 L906.4,843.2 M911.23,839.3 L922.5,848.4 M922.5,841.9 L917.67,845.6 M913.97,843.5 L906.4,849.7 M911.23,845.8 L922.5,854.9 M922.5,848.4 L917.67,852.1 M913.97,850 L906.4,856.2 M911.23,852.3 L922.5,861.4 M922.5,854.9 L917.67,858.6 M913.97,856.5 L906.4,862.7 M911.23,858.8 L922.5,867.9 M922.5,861.4 L917.67,865.1 M913.97,863 L906.4,869.2 M911.23,865.3 L922.5,874.4 M922.5,867.9 L917.67,871.6 M913.97,869.5 L906.4,875.7 M911.23,871.8 L922.5,880.9 M922.5,874.4 L917.67,878.1 M913.97,876 L906.4,882.2 M911.23,878.3 L922,887 M922.5,880.9 L917.67,884.6 M913.97,882.5 L908.47,887 M911.23,884.8 L913.95,887" fill="none" stroke="#000" stroke-width="1.05" />
<path d="M906.4,812 L906.4,881 Q906.4,887 908.2,892.5 L924.7,948" fill="none" stroke="#000" stroke-width="1.5" />
<path d="M922.5,812 L922.5,878 Q922.5,884 924.3,889 L940,943.3" fill="none" stroke="#000" stroke-width="1.5" />
<path d="M906.4,804.5 Q910,807 914.5,805 Q918.5,803 922.5,805.5" fill="none" stroke="#000" stroke-width="1.0" />
<path d="M906.4,812 Q910,814.5 914.5,812.5 Q918.5,810.5 922.5,813" fill="none" stroke="#000" stroke-width="1.0" />
<g transform="translate(924.7,948) rotate(-17)">
<path d="M11.2,-58 L16,-54.1 M12.63,-58 L11.2,-56.9 M6.31,-58 L0,-52.8 M4.8,-56.7 L16,-47.6 M16,-54.1 L11.2,-50.4 M7.52,-52.5 L0,-46.3 M4.8,-50.2 L16,-41.1 M16,-47.6 L11.2,-43.9 M7.52,-46 L0,-39.8 M4.8,-43.7 L16,-34.6 M16,-41.1 L11.2,-37.4 M7.52,-39.5 L0,-33.3 M4.8,-37.2 L16,-28.1 M16,-34.6 L11.2,-30.9 M7.52,-33 L0,-26.8 M4.8,-30.7 L16,-21.6 M16,-28.1 L11.2,-24.4 M7.52,-26.5 L0,-20.3 M4.8,-24.2 L16,-15.1 M16,-21.6 L11.2,-17.9 M7.52,-20 L0,-13.8 M4.8,-17.7 L16,-8.6 M16,-15.1 L11.2,-11.4 M7.52,-13.5 L0,-7.3 M4.8,-11.2 L16,-2.1 M16,-8.6 L11.2,-4.9 M7.52,-7 L0,-0.8 M4.8,-4.7 L10.58,0 M16,-2.1 L13.28,0 M7.52,-0.5 L6.91,0" fill="none" stroke="#000" stroke-width="1.05" />
<path d="M0,0 L0,16 M16,0 L16,16" fill="#fff" stroke="#000" stroke-width="1.2" />
<path d="M-0.5,1 Q8,2.3 16.5,1" fill="none" stroke="#000" stroke-width="1.2" />
<path d="M-0.5,5 Q8,6.3 16.5,5" fill="none" stroke="#000" stroke-width="1.2" />
<path d="M-0.5,9 Q8,10.3 16.5,9" fill="none" stroke="#000" stroke-width="1.2" />
<path d="M-0.5,13 Q8,14.3 16.5,13" fill="none" stroke="#000" stroke-width="1.2" />
<path d="M-5.5,19 Q-6,16 0,16 L16,16 Q22,16 21.5,19 L22,31 Q8,34 -6,31 Z" fill="#fff" stroke="#000" stroke-width="1.3" />
<line x1="-5.5" y1="19" x2="21.5" y2="19" stroke="#000" stroke-width="0.9"/>
<line x1="8" y1="19.5" x2="8" y2="32.5" stroke="#000" stroke-width="1.0"/>
</g>
<path d="M870.8,977.5 L870.8,993.5 M886.8,977.5 L886.8,993.5" fill="#fff" stroke="#000" stroke-width="1.2" />
<path d="M870.3,978.5 Q878.8,979.8 887.3,978.5" fill="none" stroke="#000" stroke-width="1.2" />
<path d="M870.3,982.5 Q878.8,983.8 887.3,982.5" fill="none" stroke="#000" stroke-width="1.2" />
<path d="M870.3,986.5 Q878.8,987.8 887.3,986.5" fill="none" stroke="#000" stroke-width="1.2" />
<path d="M870.3,990.5 Q878.8,991.8 887.3,990.5" fill="none" stroke="#000" stroke-width="1.2" />
<path d="M865.3,996.5 Q864.8,993.5 870.8,993.5 L886.8,993.5 Q892.8,993.5 892.3,996.5 L892.8,1008.5 Q878.8,1011.5 864.8,1008.5 Z" fill="#fff" stroke="#000" stroke-width="1.3" />
<line x1="865.3" y1="996.5" x2="892.3" y2="996.5" stroke="#000" stroke-width="0.9"/>
<line x1="878.8" y1="997" x2="878.8" y2="1010" stroke="#000" stroke-width="1.0"/>
<path d="M859.4,780 L933.75,780 L933.75,787.5 L859.4,787.5 Z" fill="#fff" stroke="#000" stroke-width="1.25" />
<line x1="860" y1="784.75" x2="933.2" y2="784.75" stroke="#000" stroke-width="0.8"/>
<line x1="923.1" y1="740.6" x2="923.1" y2="828" stroke="#000" stroke-width="1.05"/>
<line x1="923.3" y1="740.6" x2="923.3" y2="779.5" stroke="#000" stroke-width="1.8"/>
<line x1="870.6" y1="837.9" x2="986.25" y2="837.9" stroke="#000" stroke-width="1.05"/>
<path d="M870.9,837.9 L888,840.9 L888,834.9 Z" fill="#000" stroke="none"/>
<path d="M922.5,837.9 L906.25,834.9 L906.25,840.9 Z" fill="#000" stroke="none"/>
<g transform="matrix(0.21505,0,0,0.25168,947.14,834.37)"><text font-size="100"><tspan x="0">Ø</tspan><tspan x="77.78">3</tspan><tspan x="133.39">5</tspan></text></g>
<line x1="779.5" y1="703.3" x2="779.5" y2="880" stroke="#000" stroke-width="1.05"/>
<path d="M779.5,740.6 L782.5,722.5 L776.5,722.5 Z" fill="#000" stroke="none"/>
<path d="M779.5,779.5 L776.5,797.5 L782.5,797.5 Z" fill="#000" stroke="none"/>
<g transform="matrix(0,-0.22556,0.26901,0,775.53,871)"><text font-size="100"><tspan x="0">M</tspan><tspan x="83.3">A</tspan><tspan x="150">X</tspan><tspan x="244.48">4</tspan><tspan x="300.09">0</tspan></text></g>
<line x1="868.7" y1="1011" x2="868.7" y2="1030.8" stroke="#000" stroke-width="1.05"/>
<line x1="888.7" y1="1011" x2="888.7" y2="1030.8" stroke="#000" stroke-width="1.05"/>
<line x1="840" y1="1029.3" x2="960.4" y2="1029.3" stroke="#000" stroke-width="1.05"/>
<path d="M868.5,1029.3 L854.2,1026.3 L854.2,1032.3 Z" fill="#000" stroke="none"/>
<path d="M889,1029.3 L903.3,1032.3 L903.3,1026.3 Z" fill="#000" stroke="none"/>
<g transform="matrix(0.22198,0,0,0.26451,913.05,1026.29)"><text font-size="100"><tspan x="0">G</tspan></text></g>
<g transform="matrix(0.17959,0,0,0.11942,928.39,1016.2)"><path class="g1" transform="translate(0,0)" d="M25.25,0 L34,0 L34,-69 L28.8,-69 C26,-62 18,-55.5 9.5,-51.5 L9.5,-43.5 C15.5,-45.5 21.5,-49.5 25.25,-53 Z" fill="#000"/></g>
<line x1="932.5" y1="1027.1" x2="944.3" y2="1008" stroke="#000" stroke-width="1.35"/>
<g transform="matrix(0.14725,0,0,0.12071,940.26,1026.55)"><text font-size="100"><tspan x="0">2</tspan></text></g>
<g transform="matrix(0.22353,0,0,0.24622,946.81,1024.95)"><text font-size="100"><tspan x="0">”</tspan></text></g>
</svg></body></html>
